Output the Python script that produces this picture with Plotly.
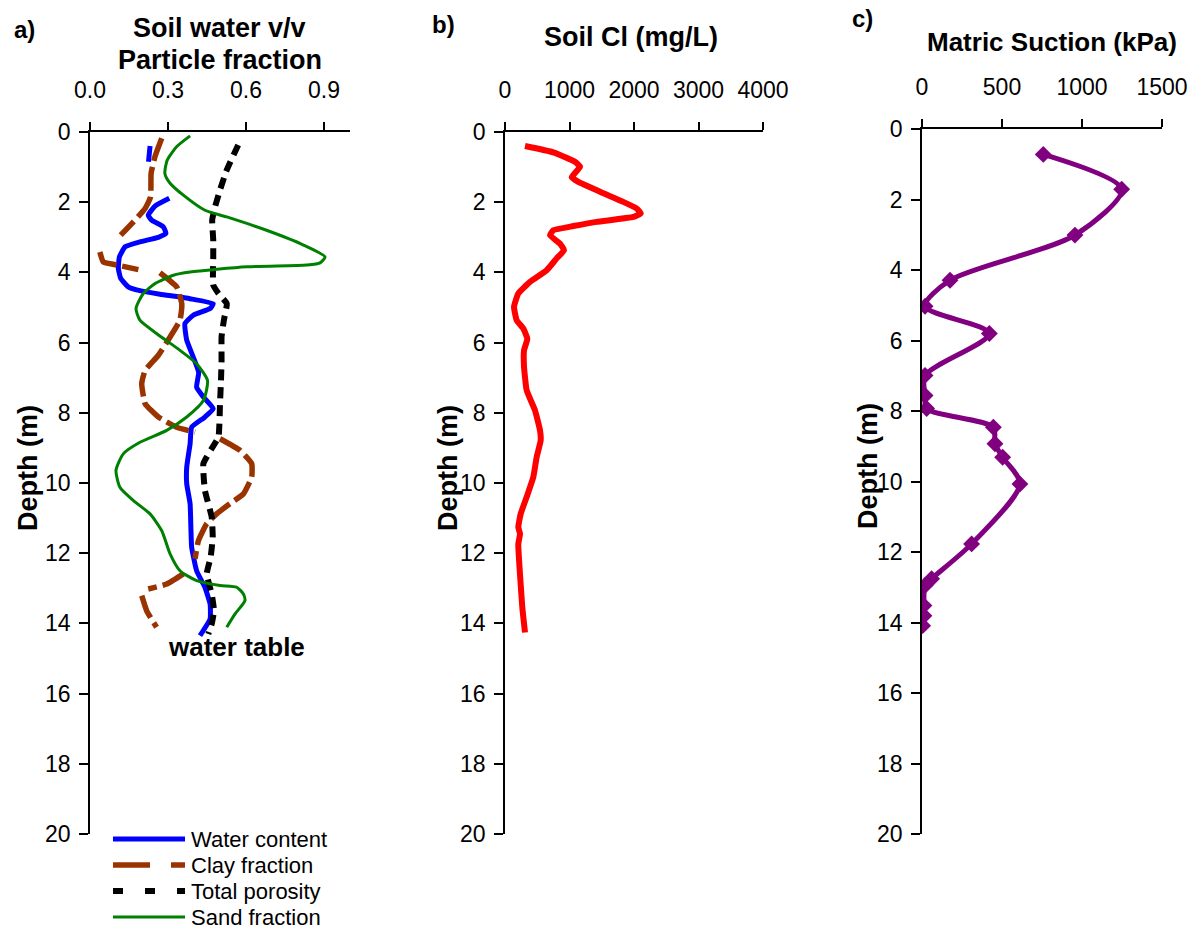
import plotly.graph_objects as go

W, H = 1198, 930

# ---------------- Panel a: soil profile properties ----------------
water_depth = [0.40, 0.85, None,
               1.89, 2.11, 2.37, 2.51, 2.70, 2.89, 3.00, 3.13, 3.27, 3.56, 3.89, 4.17,
               4.41, 4.52, 4.62, 4.75, 4.89, 5.03, 5.22, 5.46, 5.93, 6.41, 6.85, 7.27,
               7.55, 7.88, 8.12, 8.41, 8.88, 9.55, 10.02, 10.59, 11.26, 11.83, 12.50,
               12.97, 13.45, 13.87, 14.35]
water_content = [0.231, 0.225, None,
                 0.305, 0.250, 0.224, 0.237, 0.282, 0.292, 0.263, 0.192, 0.135, 0.113,
                 0.109, 0.118, 0.147, 0.192, 0.269, 0.385, 0.474, 0.462, 0.397, 0.365,
                 0.372, 0.397, 0.418, 0.410, 0.436, 0.474, 0.442, 0.391, 0.385, 0.372,
                 0.372, 0.385, 0.388, 0.391, 0.410, 0.442, 0.462, 0.462, 0.423]

clay_depth = [0.18, 0.70, 1.18, 1.85, 2.18, 2.56, 2.94, None,
              3.42, 3.70, 3.79, 3.92, None,
              4.01, 4.41, 4.89, 5.36, 5.84, 6.36, 6.79, 7.17, 7.74, 8.12, 8.41, 8.55,
              None,
              8.74, 9.07, 9.45, 9.83, 10.31, 10.59, 10.88, 11.16, 11.64, 12.16,
              None,
              12.59, 12.88, 13.02, None, 13.21, 13.64, 14.11]
clay_fraction = [0.276, 0.250, 0.235, 0.233, 0.212, 0.167, 0.118, None,
                 0.038, 0.051, 0.103, 0.186, None,
                 0.269, 0.333, 0.353, 0.346, 0.308, 0.263, 0.212, 0.199, 0.212, 0.263,
                 0.333, 0.404, None,
                 0.500, 0.577, 0.622, 0.622, 0.590, 0.538, 0.487, 0.449, 0.417, 0.404,
                 None,
                 0.359, 0.295, 0.224, None, 0.199, 0.218, 0.256]

poro_depth = [0.37, 1.08, 1.65, 2.13, 2.51, 3.08, 3.60, 4.36, 4.60, 4.89, 5.36, 5.84,
              6.50, 7.03, 7.74, 8.69, 9.02, 9.45, 10.21, 10.97, 11.55, 12.11, 12.59,
              13.16, 13.64, 14.02, 14.30]
total_porosity = [0.570, 0.526, 0.500, 0.481, 0.470, 0.474, 0.474, 0.474, 0.494, 0.526,
                  0.515, 0.506, 0.506, 0.504, 0.500, 0.494, 0.468, 0.436, 0.442, 0.468,
                  0.472, 0.464, 0.449, 0.468, 0.477, 0.468, 0.455]

sand_depth = [0.11, 0.42, 0.80, 1.18, 1.46, 1.80, 2.23, 2.42, 2.80, 3.22, 3.56, 3.73,
              3.79, 3.84, 3.99, 4.08, 4.32, 4.60, 5.03, 5.36, 5.74, 6.22, 6.60, 7.08,
              7.65, 8.12, 8.50, 8.84, 9.17, 9.64, 10.12, 10.50, 10.88, 11.36, 12.02,
              12.50, 12.78, 12.92, 12.97, 13.16, 13.35, 13.73, 14.11]
sand_fraction = [0.385, 0.333, 0.297, 0.288, 0.308, 0.359, 0.442, 0.526, 0.679, 0.821,
                 0.904, 0.885, 0.833, 0.603, 0.385, 0.321, 0.250, 0.205, 0.177, 0.192,
                 0.256, 0.346, 0.410, 0.452, 0.436, 0.372, 0.295, 0.192, 0.128, 0.100,
                 0.115, 0.167, 0.231, 0.276, 0.308, 0.346, 0.410, 0.500, 0.564, 0.590,
                 0.596, 0.558, 0.526]

# ---------------- Panel b: soil chloride ----------------
cl_depth = [0.40, 0.58, 0.85, 0.99, 1.29, 1.42, 1.70, 1.99, 2.18, 2.32, 2.42, 2.56,
            2.68, 2.80, 2.94, 3.18, 3.37, 3.60, 3.94, 4.27, 4.60, 4.98, 5.36, 5.60,
            5.89, 6.22, 6.69, 7.36, 7.93, 8.50, 8.79, 9.26, 9.83, 10.40, 10.88, 11.26,
            11.45, 11.74, 12.31, 12.88, 13.54, 14.26]
soil_cl = [310, 749, 1085, 1163, 1034, 1137, 1473, 1834, 2041, 2104, 1989, 1421,
           1059, 749, 698, 853, 915, 801, 646, 388, 206, 140, 181, 284,
           346, 295, 295, 336, 465, 543, 553, 491, 439, 336, 243, 206,
           233, 206, 222, 243, 268, 310]

# ---------------- Panel c: matric suction ----------------
suction_depth = [0.72, 1.71, 3.01, 4.29, 5.03, 5.80, 6.99, 7.56, 7.93, 8.46, 8.93,
                 9.31, 10.07, 11.77, 12.76, 12.95, 13.52, 13.81, 14.09]
matric_suction = [758, 1248, 956, 175, 19, 421, 19, 19, 29, 446, 456,
                  504, 612, 310, 60, 19, 12, 12, 4]

depth_ticks = list(range(0, 21, 2))
frac_ticks = [0.0, 0.3, 0.6, 0.9]
frac_labels = ["0.0", "0.3", "0.6", "0.9"]
cl_ticks = [0, 1000, 2000, 3000, 4000]
suction_ticks = [0, 500, 1000, 1500]

FONT = "Arial, Liberation Sans, sans-serif"


def px(x):
    return x / W


def py(y):
    return 1 - y / H


fig = go.Figure()

# panel a traces
fig.add_trace(go.Scatter(x=water_content, y=water_depth, mode="lines",
                         line=dict(color="#0000FF", width=5, shape="spline", smoothing=0.4),
                         connectgaps=False, name="Water content", xaxis="x", yaxis="y"))
fig.add_trace(go.Scatter(x=clay_fraction, y=clay_depth, mode="lines",
                         line=dict(color="#993300", width=5.5, dash="24px,6px",
                                   shape="spline", smoothing=0.4),
                         connectgaps=False, name="Clay fraction", xaxis="x", yaxis="y"))
fig.add_trace(go.Scatter(x=total_porosity, y=poro_depth, mode="lines",
                         line=dict(color="#000000", width=6, dash="11px,7px",
                                   shape="spline", smoothing=0.4),
                         name="Total porosity", xaxis="x", yaxis="y"))
fig.add_trace(go.Scatter(x=sand_fraction, y=sand_depth, mode="lines",
                         line=dict(color="#008000", width=3, shape="spline", smoothing=0.6),
                         name="Sand fraction", xaxis="x", yaxis="y"))

# panel b trace
fig.add_trace(go.Scatter(x=soil_cl, y=cl_depth, mode="lines",
                         line=dict(color="#FF0000", width=6, shape="spline", smoothing=0.4),
                         name="Soil Cl", xaxis="x2", yaxis="y2"))

# panel c trace
fig.add_trace(go.Scatter(x=matric_suction, y=suction_depth, mode="lines+markers",
                         line=dict(color="#800080", width=5, shape="spline", smoothing=0.8),
                         marker=dict(symbol="diamond", size=13, color="#800080"),
                         name="Matric suction", xaxis="x3", yaxis="y3"))

axis_common = dict(showline=True, linecolor="black", linewidth=1.5, showgrid=False,
                   zeroline=False, ticks="outside", tickcolor="black", tickwidth=1.5,
                   automargin=False,
                   tickfont=dict(family=FONT, size=23, color="black"))

panels = [
    # (x suffix, left px, right px, top px, bottom px, x range, ticks, labels)
    ("", 90, 350, 132, 834, [0, 1.0], frac_ticks, frac_labels),
    ("2", 505, 763, 132, 834, [0, 4000], cl_ticks, [str(v) for v in cl_ticks]),
    ("3", 922, 1162, 129, 834, [0, 1500], suction_ticks, [str(v) for v in suction_ticks]),
]

layout_axes = {}
for suf, l, r, t, b, xr, tv, tt in panels:
    layout_axes["xaxis" + suf] = dict(
        axis_common, domain=[px(l), px(r)], range=xr, side="top",
        anchor="y" + suf, tickvals=tv, ticktext=tt, ticklen=8,
        ticklabelstandoff=15)
    layout_axes["yaxis" + suf] = dict(
        axis_common, domain=[py(b), py(t)], range=[20, 0],
        anchor="x" + suf, tickvals=depth_ticks, ticklen=9,
        ticklabelstandoff=4)

annotations = []


def text(x, y, s, size, bold=True, angle=0, xanchor="center"):
    annotations.append(dict(
        x=px(x), y=py(y), xref="paper", yref="paper", text=("<b>%s</b>" % s) if bold else s,
        showarrow=False, textangle=angle, xanchor=xanchor, yanchor="middle",
        font=dict(family=FONT, size=size, color="black")))


text(24, 30, "a)", 24)
text(220, 28, "Soil water v/v", 27)
text(220, 60, "Particle fraction", 27)
text(443, 25, "b)", 24)
text(631, 37, "Soil Cl (mg/L)", 27)
text(862, 19, "c)", 24)
text(1052, 42, "Matric Suction (kPa)", 26)
text(28, 468, "Depth (m)", 27, angle=-90)
text(448, 468, "Depth (m)", 27, angle=-90)
text(868, 466, "Depth (m)", 27, angle=-90)
text(236, 647, "water table", 26)

# legend for panel a
legend_rows = [
    ("Water content", "#0000FF", 5, "solid", 839),
    ("Clay fraction", "#993300", 5.5, "37px,21px", 865),
    ("Total porosity", "#000000", 6, "10px,22px", 891),
    ("Sand fraction", "#008000", 3, "solid", 917),
]
shapes = []
for label, color, width, dash, yy in legend_rows:
    shapes.append(dict(type="line", xref="paper", yref="paper",
                       x0=px(113), x1=px(185), y0=py(yy), y1=py(yy),
                       line=dict(color=color, width=width, dash=dash)))
    text(189, yy, label, 22, bold=False, xanchor="left")

fig.update_layout(
    width=W, height=H,
    margin=dict(l=0, r=0, t=0, b=0, autoexpand=False),
    paper_bgcolor="white", plot_bgcolor="white",
    showlegend=False,
    annotations=annotations,
    shapes=shapes,
    **layout_axes,
)

fig.write_html("out.html")
